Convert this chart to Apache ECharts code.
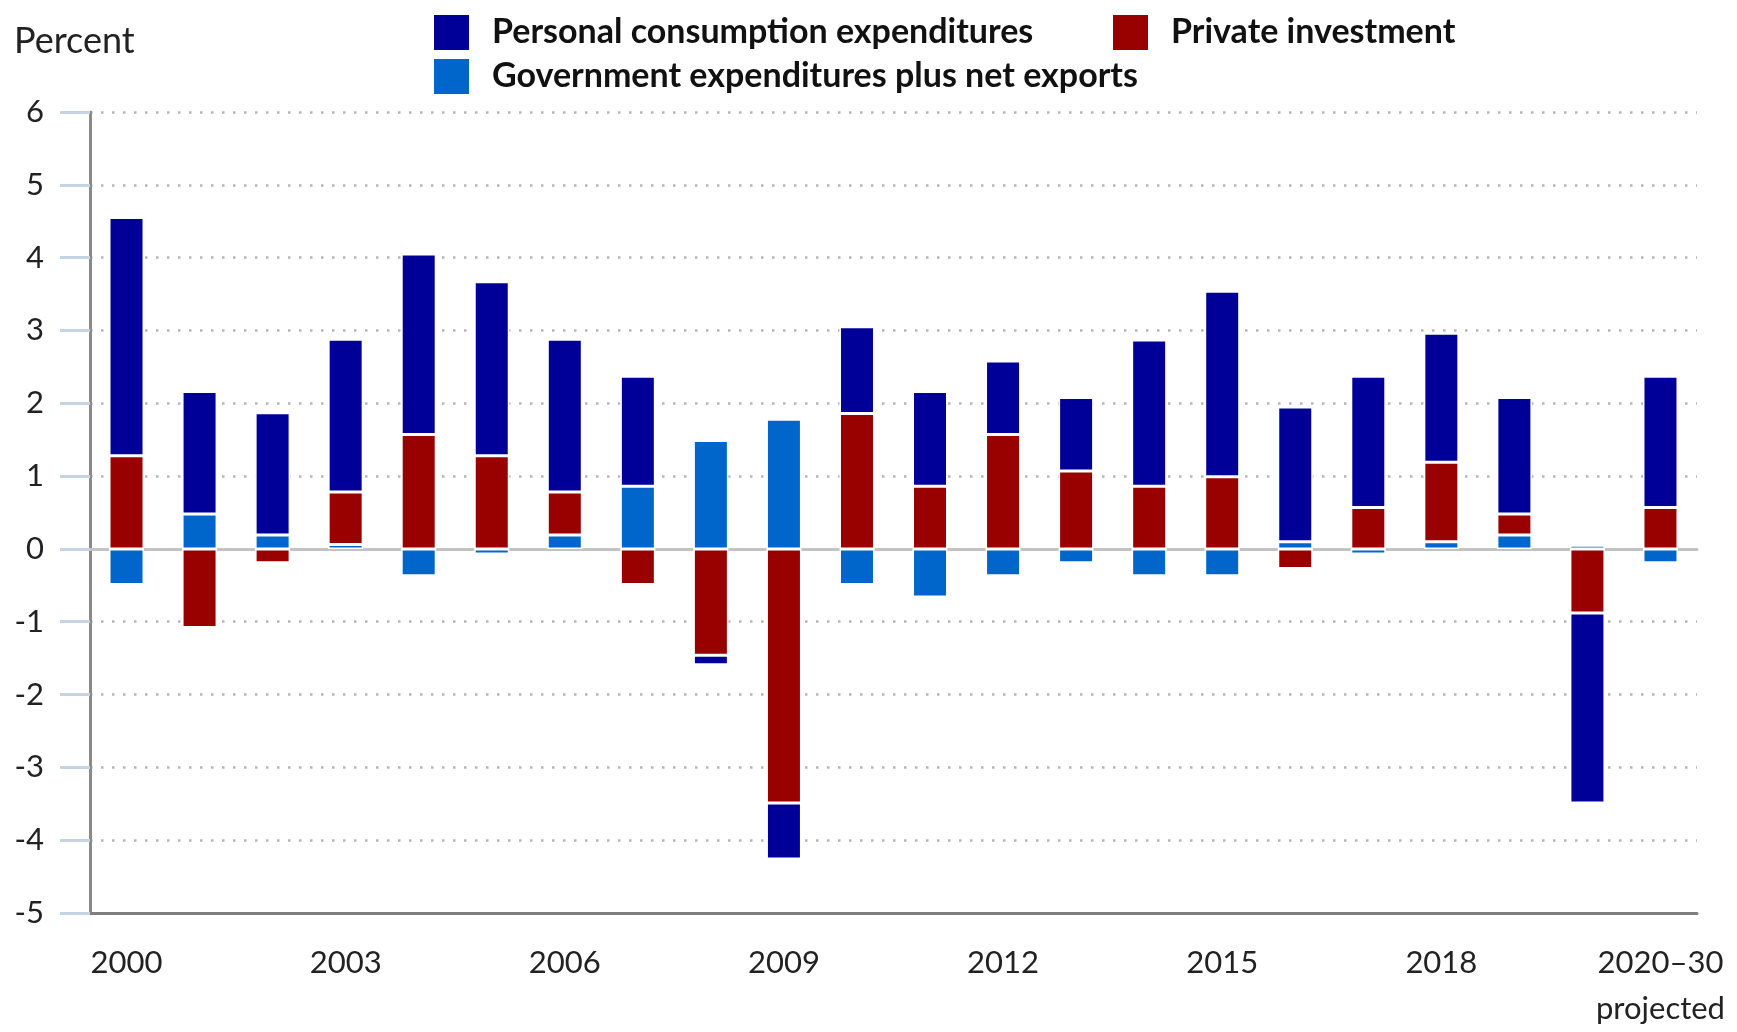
<!DOCTYPE html>
<html>
<head>
<meta charset="utf-8">
<script src="https://cdn.jsdelivr.net/npm/echarts@6/dist/echarts.min.js"></script>
<style>html,body{margin:0;padding:0;background:#fff}#chart{width:1737px;height:1032px}</style>
</head>
<body>
<div id="chart"></div>
<script>
const categories = ['2000','2001','2002','2003','2004','2005','2006','2007','2008','2009','2010',
  '2011','2012','2013','2014','2015','2016','2017','2018','2019','2020','2020–30\nprojected'];
const govNetExports = [-0.49,0.48,0.19,0.06,-0.37,-0.07,0.19,0.86,1.49,1.78,-0.49,
  -0.66,-0.37,-0.19,-0.37,-0.37,0.1,-0.07,0.1,0.19,0.05,-0.19];
const privateInvestment = [1.28,-1.08,-0.19,0.72,1.57,1.28,0.59,-0.49,-1.46,-3.49,1.86,
  0.86,1.57,1.07,0.86,0.99,-0.27,0.57,1.09,0.29,-0.88,0.57];
const personalConsumption = [3.27,1.68,1.68,2.1,2.48,2.39,2.1,1.51,-0.13,-0.77,1.19,
  1.3,1.01,1.01,2.01,2.55,1.85,1.8,1.77,1.6,-2.61,1.8];
const shownLabelIndexes = [0,3,6,9,12,15,18,21];
const yTicks = {min:-5, max:6, step:1};

const FONT = 'Lato';
const chart = echarts.init(document.getElementById('chart'));
const legendText = {fontFamily: FONT, fontSize: 34, fontWeight: 'bold', color: '#111', padding: [0,0,0,17]};
const legendBase = {orient:'horizontal', icon:'rect', itemWidth:37, itemHeight:37, padding:0, textStyle: legendText, selectedMode:false};
function bar(name, data, color){
  return {name, type:'bar', stack:'total', data, barWidth:35,
    itemStyle:{color, borderColor:'#fff', borderWidth:1.5}, emphasis:{disabled:true}};
}
chart.setOption({
  animation:false,
  textStyle:{fontFamily:FONT},
  title:{text:'Percent', left:14, top:23, padding:0,
    textStyle:{fontFamily:FONT, fontSize:36, fontWeight:'normal', color:'#222'}},
  legend:[
    Object.assign({}, legendBase, {left:432, top:13, data:['Personal consumption expenditures']}),
    Object.assign({}, legendBase, {left:1111, top:13, data:['Private investment']}),
    Object.assign({}, legendBase, {left:432, top:57, data:['Government expenditures plus net exports']})
  ],
  grid:{left:90, right:40, top:112, bottom:113},
  xAxis:[{
    type:'category', data:categories, position:'bottom',
    axisLine:{onZero:false, lineStyle:{color:'#7f7f7f', width:3}},
    axisTick:{show:false},
    axisLabel:{interval:(i)=>shownLabelIndexes.includes(i), fontFamily:FONT, fontSize:31, color:'#222', lineHeight:46, margin:27}
  },{
    type:'category', data:categories, position:'bottom',
    axisLine:{onZero:true, lineStyle:{color:'#c3c3c3', width:3}},
    axisTick:{show:false}, axisLabel:{show:false}, splitLine:{show:false}
  }],
  yAxis:{
    type:'value', min:yTicks.min, max:yTicks.max, interval:yTicks.step,
    axisLine:{show:true, lineStyle:{color:'#8a8a8a', width:3}},
    axisTick:{show:true, length:30, lineStyle:{color:'#c5d4e4', width:3}},
    axisLabel:{fontFamily:FONT, fontSize:31, color:'#222', margin:46},
    splitLine:{show:true, lineStyle:{color:'#b5b5b5', width:2.5, type:[2.5,8.5]}}
  },
  series:[
    bar('Government expenditures plus net exports', govNetExports, '#0066cc'),
    bar('Private investment', privateInvestment, '#990000'),
    bar('Personal consumption expenditures', personalConsumption, '#000099')
  ]
});
</script>
</body>
</html>
